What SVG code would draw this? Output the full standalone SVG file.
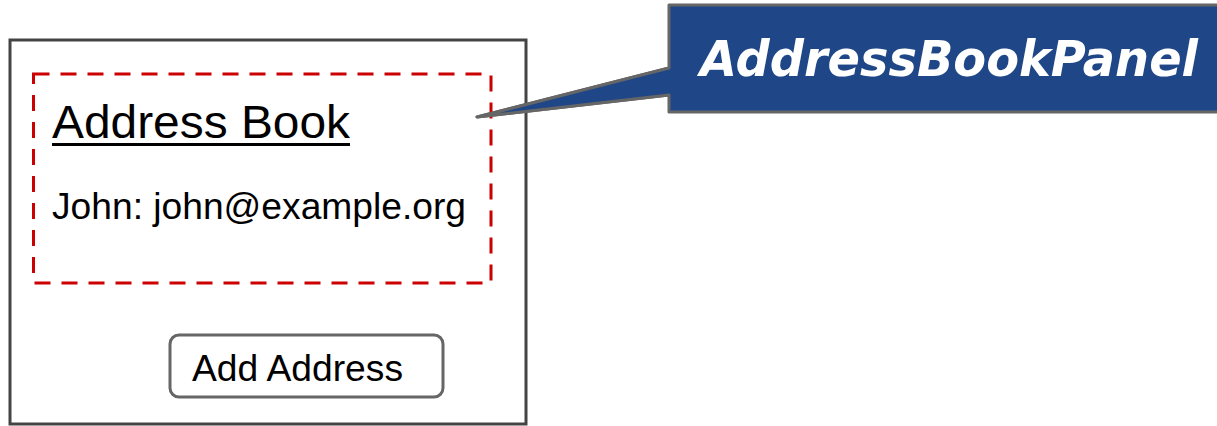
<svg xmlns="http://www.w3.org/2000/svg" width="1217" height="426" viewBox="0 0 1217 426">
<style>
.t{font-family:"Liberation Sans",Arial,sans-serif;fill:#000}
.frame{fill:#fff;stroke:#444;stroke-width:3}
.dash{fill:none;stroke:#cc0000;stroke-width:3;stroke-dasharray:16 11}
.btn{fill:#fff;stroke:#666;stroke-width:3}
.callout{fill:#1f4788;stroke:#666;stroke-width:3;stroke-linejoin:round}
.ct{font-family:"DejaVu Sans",Verdana,sans-serif;font-weight:bold;font-style:italic;fill:#fff}
</style>
<rect width="1217" height="426" fill="#fff"/>
<g id="panel-frame">
<rect class="frame" x="10" y="40" width="516" height="384"/>
</g>
<g id="address-book-panel">
<rect class="dash" x="33.5" y="74" width="457.5" height="209"/>
<text class="t" x="52" y="138" font-size="47" textLength="298" lengthAdjust="spacingAndGlyphs">Address Book</text>
<rect x="52" y="143" width="298" height="3" fill="#000"/>
<text class="t" x="52" y="219" font-size="37" textLength="414" lengthAdjust="spacingAndGlyphs">John: john@example.org</text>
</g>
<g id="add-address-button">
<rect class="btn" x="170" y="335" width="273" height="62" rx="9"/>
<text class="t" x="192" y="381" font-size="37" textLength="211" lengthAdjust="spacingAndGlyphs">Add Address</text>
</g>
<g id="connectors">
<path class="callout" d="M669,68 L477,117 L669,95"/>
</g>
<g id="callout-label">
<path class="callout" d="M669,95 L669,112 L1219,112 L1219,5 L669,5 L669,68 L477,117 Z"/>
<text class="ct" x="700" y="76" font-size="49" textLength="498" lengthAdjust="spacingAndGlyphs">AddressBookPanel</text>
</g>
</svg>
